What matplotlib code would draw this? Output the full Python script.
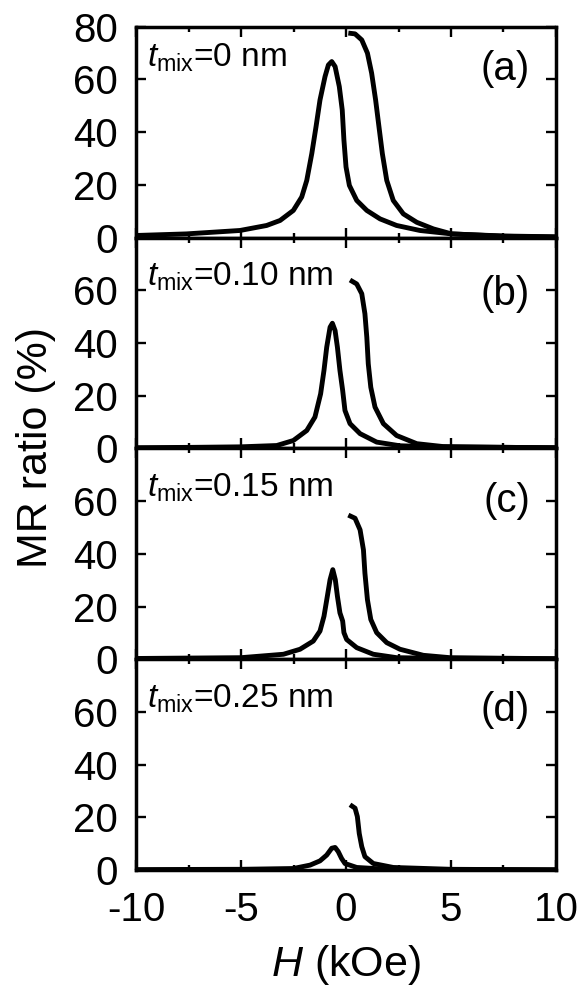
import matplotlib
matplotlib.use('Agg')
import matplotlib.pyplot as plt
from matplotlib.ticker import MultipleLocator

plt.rcParams['font.family'] = ['Liberation Sans', 'DejaVu Sans']
plt.rcParams['mathtext.fontset'] = 'custom'
plt.rcParams['mathtext.rm'] = 'Liberation Sans'
plt.rcParams['mathtext.it'] = 'Liberation Sans:italic'

# panel labels / thickness labels
panel_tags = ['(a)', '(b)', '(c)', '(d)']
t_mix = ['0', '0.10', '0.15', '0.25']

# branch with the peak at negative field (H in kOe, MR in %)
peak_h_a = [-10, -7.6, -5.05, -3.78, -3.14, -2.51, -2.11, -1.87, -1.63, -1.43, -1.24, -1.0, -0.84,
            -0.68, -0.52, -0.32, -0.18, -0.10, 0.0, 0.16, 0.51, 0.99, 1.62, 2.41, 3.52, 5.03, 7.5, 10]
peak_mr_a = [0.8, 1.4, 2.7, 4.6, 6.5, 10.3, 15.4, 21.7, 31.9, 42.0, 52.2, 61.1, 65.5,
             66.8, 64.9, 57.3, 48.4, 37.0, 26.8, 19.8, 14.1, 10.3, 7.1, 4.6, 2.7, 1.4, 0.6, 0.3]

peak_h_b = [-10, -7.4, -5.05, -3.30, -2.51, -1.87, -1.48, -1.21, -1.05, -0.92, -0.76, -0.65,
            -0.52, -0.41, -0.29, -0.16, -0.05, 0.19, 0.67, 1.46, 2.57, 5.0, 10]
peak_mr_b = [0.3, 0.4, 0.6, 1.1, 3.0, 6.8, 11.9, 20.7, 29.6, 38.4, 46.0, 47.5,
             44.7, 38.4, 29.6, 22.0, 14.4, 9.4, 5.6, 2.4, 1.0, 0.5, 0.3]

peak_h_c = [-10, -5.0, -2.98, -2.19, -1.56, -1.24, -1.05, -0.89, -0.76, -0.63,
            -0.51, -0.41, -0.29, -0.16, -0.10, 0.03, 0.51, 1.30, 2.41, 5.0, 10]
peak_mr_c = [0.3, 0.6, 1.9, 3.8, 6.9, 10.7, 16.3, 23.9, 30.2, 34.0,
             30.2, 23.9, 17.6, 14.5, 10.1, 7.5, 4.4, 1.9, 0.6, 0.3, 0.2]

peak_h_d = [-10, -5.0, -2.51, -1.71, -1.24, -0.92, -0.68, -0.52,
            -0.37, -0.21, -0.05, 0.51, 1.78, 5.0, 10]
peak_mr_d = [0.2, 0.3, 0.6, 1.9, 3.5, 5.7, 8.3, 8.6,
             7.0, 4.4, 2.5, 1.0, 0.4, 0.2, 0.1]

# branch starting near zero field and sweeping to positive field
start_h_a = [0.11, 0.43, 0.75, 1.02, 1.22, 1.41, 1.57, 1.73, 1.94, 2.25, 2.73, 3.37, 4.16, 5.03, 7.5, 10]
start_mr_a = [77.6, 77.3, 75.0, 70.0, 62.4, 52.2, 42.0, 31.9, 21.7, 14.1, 9.0, 5.8, 3.3, 1.4, 0.5, 0.2]

start_h_b = [0.19, 0.51, 0.75, 0.90, 0.99, 1.06, 1.18, 1.38, 1.78, 2.41, 3.37, 4.63, 10]
start_mr_b = [63.9, 62.4, 58.7, 51.1, 42.2, 32.1, 23.2, 15.7, 9.4, 4.9, 1.8, 0.7, 0.2]

start_h_c = [0.11, 0.43, 0.67, 0.83, 0.90, 1.02, 1.18, 1.46, 1.94, 2.57, 3.68, 4.95, 10]
start_mr_c = [54.7, 53.5, 49.1, 41.5, 32.7, 22.6, 15.1, 10.1, 6.3, 3.8, 1.5, 0.6, 0.2]

start_h_d = [0.19, 0.43, 0.54, 0.63, 0.75, 0.90, 1.30, 2.25, 5.0, 10]
start_mr_d = [24.8, 23.5, 20.3, 13.9, 8.9, 5.1, 2.5, 1.0, 0.3, 0.1]

peaks = [(peak_h_a, peak_mr_a), (peak_h_b, peak_mr_b), (peak_h_c, peak_mr_c), (peak_h_d, peak_mr_d)]
starts = [(start_h_a, start_mr_a), (start_h_b, start_mr_b), (start_h_c, start_mr_c), (start_h_d, start_mr_d)]

text_y = [0.81, 0.772, 0.772, 0.772]
tag_y = [0.748, 0.68, 0.70, 0.705]

fig, axes = plt.subplots(4, 1, sharex=True, figsize=(5.84, 9.91), dpi=100)
fig.subplots_adjust(left=0.233, right=0.952, bottom=0.122, top=0.973, hspace=0)

for i, ax in enumerate(axes):
    ax.plot(*peaks[i], color='black', lw=3.5, solid_joinstyle='round', solid_capstyle='butt')
    ax.plot(*starts[i], color='black', lw=3.5, solid_joinstyle='round', solid_capstyle='butt')
    ax.set_xlim(-10, 10)
    ax.set_ylim(0, 80)
    ax.set_yticks([0, 20, 40, 60, 80])
    if i == 0:
        ax.set_yticklabels(['0', '20', '40', '60', '80'])
    else:
        ax.set_yticklabels(['0', '20', '40', '60', ''])
    ax.xaxis.set_major_locator(MultipleLocator(5))
    ax.xaxis.set_minor_locator(MultipleLocator(2.5))
    ax.tick_params(which='both', direction='in', top=True, right=True, width=1.7,
                   labelsize=29)
    ax.tick_params(axis='y', pad=13)
    ax.tick_params(axis='x', pad=15)
    ax.tick_params(which='major', length=7.5)
    ax.tick_params(which='minor', length=3.5)
    for sp in ax.spines.values():
        sp.set_linewidth(2.5)
    ax.text(0.026, text_y[i], r'$t_{\mathrm{mix}}$=' + t_mix[i] + ' nm', transform=ax.transAxes,
            fontsize=24, ha='left', va='baseline')
    ax.text(0.938, tag_y[i], panel_tags[i], transform=ax.transAxes,
            fontsize=29, ha='right', va='baseline')

axes[-1].set_xticks([-10, -5, 0, 5, 10])
axes[-1].set_xticklabels(['-10', '-5', '0', '5', '10'])
axes[-1].set_xlabel(r'$H$ (kOe)', fontsize=31, labelpad=10)
fig.text(0.062, 0.548, 'MR ratio (%)', rotation=90, ha='center', va='center', fontsize=31)

fig.savefig('out.png', dpi=100)
